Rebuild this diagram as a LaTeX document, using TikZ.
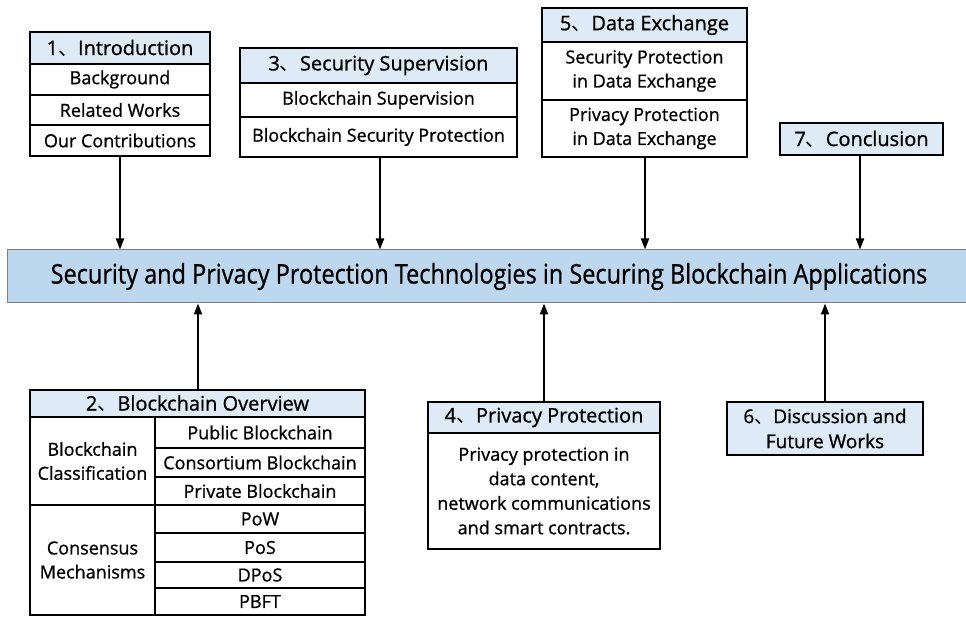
\documentclass[tikz,border=0pt]{standalone}
\usepackage{fontspec}
\setmainfont{Open Sans}[FakeBold=0.9]
\newfontfamily\bodyfont{Open Sans}[FakeBold=0.9]
\newfontfamily\cjk{Noto Sans CJK SC}
\usetikzlibrary{arrows.meta}
\definecolor{hdrblue}{HTML}{DEEBF7}
\definecolor{barblue}{HTML}{BDD7EE}
\definecolor{bargray}{HTML}{808080}
\newcommand{\dun}{{\cjk 、}}
\tikzset{
  box/.style={draw=black, line width=1.6pt, inner sep=0pt, align=center, anchor=center},
  hdr/.style={box, fill=hdrblue, font=\bodyfont\fontsize{20}{24}\selectfont},
  cell/.style={box, fill=white, font=\bodyfont\fontsize{18}{24}\selectfont},
  arr/.style={line width=2pt, -{Triangle[width=8pt,length=11pt]}},
}
\begin{document}
\begin{tikzpicture}[x=1pt,y=1pt]
\useasboundingbox (0,0) rectangle (966,-617);
% main bar
\node[draw=bargray, line width=1pt, fill=barblue, minimum width=964, minimum height=53, inner sep=0pt] (bar) at (489,-276.5)
  {\scalebox{0.87}[1]{\bodyfont\fontsize{27}{30}\selectfont Security and Privacy Protection Technologies in Securing Blockchain Applications}};
% box 1
\node[hdr, minimum width=180, minimum height=32] (h1) at (120,-48) {1\dun Introduction};
\node[cell, minimum width=180, minimum height=31] (r1a) at (120,-79.5) {Background};
\node[cell, minimum width=180, minimum height=30] (r1b) at (120,-110) {Related Works};
\node[cell, minimum width=180, minimum height=31] (r1c) at (120,-140.5) {Our Contributions};
% box 3
\node[hdr, minimum width=277, minimum height=35] (h3) at (378.5,-65.5) {3\dun Security Supervision};
\node[cell, minimum width=277, minimum height=34] (r3a) at (378.5,-100) {Blockchain Supervision};
\node[cell, minimum width=277, minimum height=40] (r3b) at (378.5,-137) {Blockchain Security Protection};
% box 5
\node[hdr, minimum width=205, minimum height=34] (h5) at (644.5,-25) {5\dun Data Exchange};
\node[cell, minimum width=205, minimum height=58] (r5a) at (644.5,-71) {Security Protection\\in Data Exchange};
\node[cell, minimum width=205, minimum height=57] (r5b) at (644.5,-128.5) {Privacy Protection\\in Data Exchange};
% box 7
\node[hdr, minimum width=163, minimum height=32] (h7) at (861.5,-139) {7\dun Conclusion};
% box 2
\node[hdr, minimum width=335, minimum height=27] (h2) at (197.5,-403.5) {2\dun Blockchain Overview};
\node[cell, minimum width=125, minimum height=88] (cls) at (92.5,-461) {Blockchain\\Classification};
\node[cell, minimum width=125, minimum height=110] (cns) at (92.5,-560) {Consensus\\Mechanisms};
\node[cell, minimum width=210, minimum height=31] (pub) at (260,-432.5) {Public Blockchain};
\node[cell, minimum width=210, minimum height=29] (con) at (260,-462.5) {Consortium Blockchain};
\node[cell, minimum width=210, minimum height=28] (pri) at (260,-491) {Private Blockchain};
\node[cell, minimum width=210, minimum height=28] (pow) at (260,-519) {PoW};
\node[cell, minimum width=210, minimum height=29] (pos) at (260,-547.5) {PoS};
\node[cell, minimum width=210, minimum height=26] (dpos) at (260,-575) {DPoS};
\node[cell, minimum width=210, minimum height=27] (pbft) at (260,-601.5) {PBFT};
% box 4
\node[hdr, minimum width=232, minimum height=31] (h4) at (544,-417.5) {4\dun Privacy Protection};
\node[cell, minimum width=232, minimum height=116, font=\bodyfont\fontsize{18}{24.5}\selectfont] (b4) at (544,-491) {Privacy protection in\\data content,\\network communications\\and smart contracts.};
% box 6
\node[hdr, minimum width=196, minimum height=53, font=\bodyfont\fontsize{19}{25}\selectfont] (h6) at (825,-428.5) {6\dun Discussion and\\Future Works};
% arrows down
\draw[arr] (r1c.south) -- (r1c.south |- bar.north);
\draw[arr] (r3b.south -| 380,0) -- (bar.north -| 380,0);
\draw[arr] (r5b.south -| 645,0) -- (bar.north -| 645,0);
\draw[arr] (h7.south -| 860,0) -- (bar.north -| 860,0);
% arrows up
\draw[arr] (h2.north -| 198,0) -- (bar.south -| 198,0);
\draw[arr] (h4.north) -- (h4.north |- bar.south);
\draw[arr] (h6.north) -- (h6.north |- bar.south);
\end{tikzpicture}
\end{document}
